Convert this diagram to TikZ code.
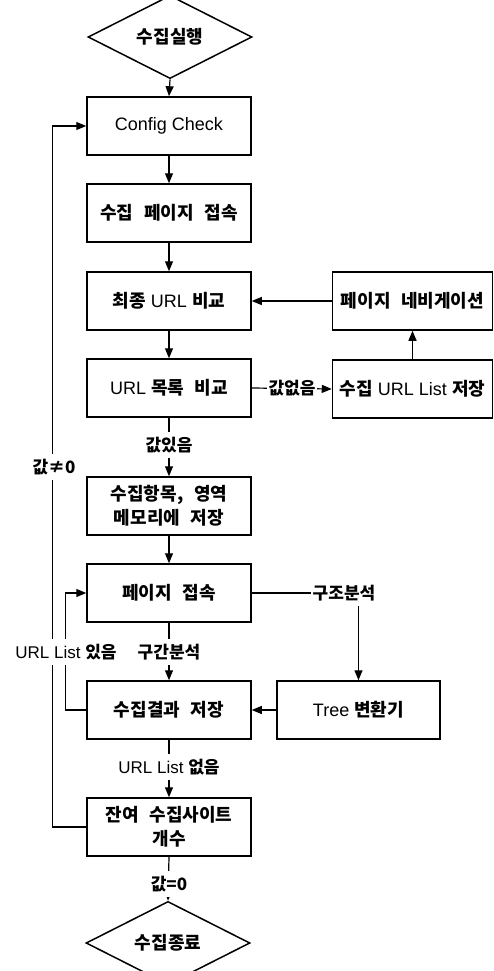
\documentclass[tikz,border=0pt]{standalone}
\usepackage{fontspec}
\setmainfont{Liberation Sans}
\newfontfamily\kr[WordSpace=2.6]{Noto Sans CJK KR}
\usetikzlibrary{shapes.geometric,arrows.meta,backgrounds}
\newcommand{\K}[1]{{\kr\bfseries #1}}
\begin{document}
\begin{tikzpicture}[x=1pt,y=-1pt,
  txt/.style={font=\fontsize{18}{24}\selectfont},
  box/.style={txt, draw, line width=1.5pt, fill=white, minimum width=164pt, minimum height=58pt, inner sep=2pt, align=center},
  dia/.style={txt, diamond, draw, line width=1.5pt, fill=white, minimum width=164pt, minimum height=58pt, inner sep=0pt},
  lbl/.style={font=\fontsize{17}{20}\selectfont, fill=white, inner xsep=2pt, inner ysep=5pt},
  arr/.style={line width=1.2pt, -{Triangle[length=10pt,width=8pt]}}]
\useasboundingbox (0,0) rectangle (494,971);
% main column
\node[dia] (start) at (170,37) {\K{수집실행}};
\node[box] (cfg) at (169,126) {Config Check};
\node[box] (acc) at (169,213) {\K{수집 페이지 접속}};
\node[box] (fin) at (169,301) {\K{최종} URL \K{비교}};
\node[box] (cmp) at (169,388) {URL \K{목록 비교}};
\node[box] (mem) at (169,506) {\K{수집항목, 영역}\\\K{메모리에 저장}};
\node[box] (pg) at (169,593) {\K{페이지 접속}};
\node[box] (save) at (169,710) {\K{수집결과 저장}};
\node[box] (rem) at (169,827) {\K{잔여 수집사이트}\\\K{개수}};
\node[dia] (end) at (168,943) {\K{수집종료}};
% right column
\node[box, minimum width=160pt] (nav) at (412.5,301) {\K{페이지 네비게이션}};
\node[box, minimum width=160pt] (usave) at (412.5,389) {\K{수집} URL List \K{저장}};
\node[box, minimum width=163pt] (tree) at (358.5,710) {Tree \K{변환기}};
% labels
\node[lbl] (l1) at (292,388) {\K{값없음}};
\node[lbl] (l2) at (169,445) {\K{값있음}};
\node[lbl] (l3) at (54,467) {\K{값≠0}};
\node[lbl] (l4) at (344,593) {\K{구조분석}};
\node[lbl] (l5) at (66,652) {URL List \K{있음}};
\node[lbl] (l6) at (169,652) {\K{구간분석}};
\node[lbl] (l7) at (169,767) {URL List \K{없음}};
\node[lbl] (l8) at (169,884) {\K{값=0}};
\begin{scope}[on background layer]
\draw[arr] (start.south) -- (cfg.north);
\draw[arr] (cfg) -- (acc);
\draw[arr] (acc) -- (fin);
\draw[arr] (fin) -- (cmp);
\draw[arr] (cmp.east) -- (usave.west);
\draw[arr] (usave.north) -- (nav.south);
\draw[arr] (nav.west) -- (fin.east);
\draw[arr] (cmp.south) -- (mem.north);
\draw[arr] (mem) -- (pg);
\draw[arr] (pg.east) -| (tree.north);
\draw[arr] (tree.west) -- (save.east);
\draw[arr] (pg.south) -- (save.north);
\draw[arr] (save.west) -- ++(-21,0) |- (pg.west);
\draw[arr] (save.south) -- (rem.north);
\draw[arr] (rem.west) -- ++(-34,0) |- (cfg.west);
\draw[arr] (rem.south) -- (end.north);
\end{scope}
\end{tikzpicture}
\end{document}
